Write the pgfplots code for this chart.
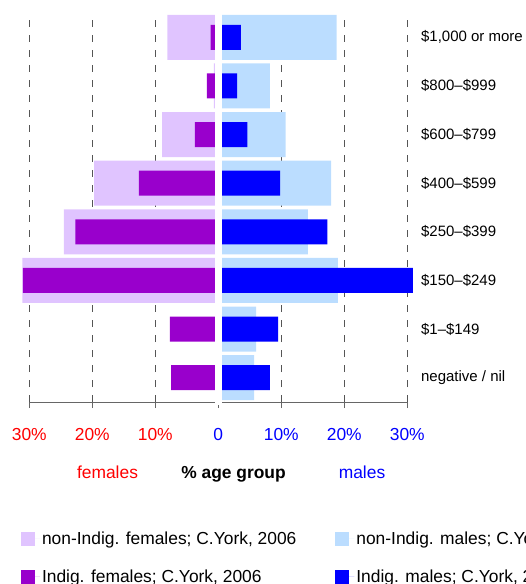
\documentclass[border=0pt]{standalone}
\usepackage{pgfplots}
\pgfplotsset{compat=1.18}
\usepackage{pgfplotstable}
\usepackage{fontspec}
\setmainfont{Liberation Sans}
\definecolor{lpur}{HTML}{E0C4FF}
\definecolor{dpur}{HTML}{9900CC}
\definecolor{lblu}{HTML}{BBDDFF}
\definecolor{dblu}{HTML}{0000FF}
\definecolor{gridc}{HTML}{555555}
\definecolor{axc}{HTML}{666666}

\pgfplotstableread{
y lf df lm dm
0 0 -7.5 5.7 8.2
1 0 -7.7 6.0 9.5
2 -31.1 -31.0 19.0 30.9
3 -24.5 -22.7 14.2 17.3
4 -19.7 -12.6 17.9 9.8
5 -8.9 -3.7 10.7 4.6
6 -0.7 -1.8 8.2 3.0
7 -8.1 -1.2 18.8 3.6
}\data

\begin{document}
\begin{tikzpicture}
\path[use as bounding box] (0pt,0pt) rectangle (526pt,584pt);
\clip (0pt,0pt) rectangle (526pt,584pt);
\begin{axis}[
  at={(10.4pt,182pt)}, anchor=south west,
  scale only axis, width=409.5pt, height=389pt,
  xmin=-33, xmax=32, ymin=-0.5, ymax=7.5,
  clip=false,
  axis line style={draw=none},
  xtick={-30,-20,-10,0,10,20,30},
  xticklabels={\textcolor{red}{30\%},\textcolor{red}{20\%},\textcolor{red}{10\%},\textcolor{blue}{0},\textcolor{blue}{10\%},\textcolor{blue}{20\%},\textcolor{blue}{30\%}},
  xtick pos=left, tick align=outside, major tick length=6pt,
  xtick style={axc, line width=0.8pt},
  xticklabel style={font=\fontsize{17.4}{20}\selectfont, anchor=base, yshift=-32pt},
  xmajorgrids,
  major grid style={gridc, line width=0.8pt, dash pattern=on 7pt off 8pt},
  ytick={0,...,7},
  yticklabels={negative / nil,\$1--\$149,\$150--\$249,\$250--\$399,\$400--\$599,\$600--\$799,\$800--\$999,{\$1,000 or more}},
  ytick pos=right, yticklabel pos=right,
  ytick style={draw=none},
  yticklabel style={font=\fontsize{15}{18}\selectfont, anchor=west, inner sep=0pt, xshift=-5pt},
  legend columns=2,
  legend cell align=left,
  legend style={at={(0.0259,-0.328)}, anchor=north west, draw=none, fill=none,
    inner sep=0pt, outer sep=0pt,
    font=\fontsize{17.4}{20}\selectfont,
    /tikz/every even column/.append style={column sep=37pt},
    row sep=20pt},
  legend image code/.code={\fill[#1] (0pt,-7pt) rectangle (14pt,7pt); \path (0pt,0pt) -- (19pt,0pt);},
]
\addplot[xbar, bar shift=0pt, bar width=45pt, fill=lpur, draw=none] table[x=lf,y=y] {\data};
\addlegendentry{non-Indig. females; C.York, 2006}
\addplot[xbar, bar shift=0pt, bar width=45pt, fill=lblu, draw=none] table[x=lm,y=y] {\data};
\addlegendentry{non-Indig. males; C.York, 2006}
\addplot[xbar, bar shift=0pt, bar width=25pt, fill=dpur, draw=none] table[x=df,y=y] {\data};
\addlegendentry{Indig. females; C.York, 2006}
\addplot[xbar, bar shift=0pt, bar width=25pt, fill=dblu, draw=none] table[x=dm,y=y] {\data};
\addlegendentry{Indig. males; C.York, 2006}
\draw[axc, line width=0.8pt] (axis cs:-30,-0.5) -- (axis cs:30,-0.5);
\fill[white] (axis cs:-0.6,-0.56) rectangle (axis cs:0.6,7.5);
\end{axis}
\node[anchor=base, red, font=\fontsize{17.4}{20}\selectfont] at (107.5pt,105pt) {females};
\node[anchor=base, font=\fontsize{17.4}{20}\selectfont\bfseries] at (233.5pt,105pt) {\% age group};
\node[anchor=base, blue, font=\fontsize{17.4}{20}\selectfont] at (362pt,105pt) {males};
\end{tikzpicture}
\end{document}
